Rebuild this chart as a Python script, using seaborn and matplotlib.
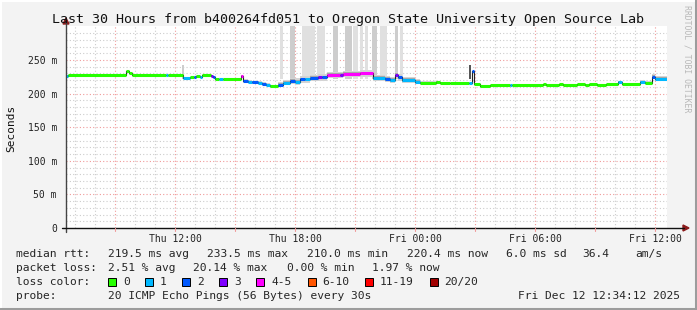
import numpy as np
import pandas as pd
import matplotlib
matplotlib.use("Agg")
import matplotlib.pyplot as plt
import seaborn as sns

# ---------------- data ----------------
# median rtt segments: start hour (since window start), value in ms, loss class, smoke spread (ms)
seg_start = [0.0, 0.1, 3.0, 3.15, 3.3, 5.0, 5.1, 5.85, 6.2, 6.4, 6.5, 6.7, 6.8, 7.25, 7.35,
             7.45, 7.65, 7.85, 8.75, 8.85, 9.1, 9.3, 9.6, 9.8, 10.0, 10.2, 10.6, 10.85, 11.2,
             11.45, 11.7, 11.95, 12.2, 12.6, 12.8, 13.05, 13.7, 13.85, 14.7, 15.35, 15.95,
             16.2, 16.45, 16.6, 16.8, 17.45, 17.7, 18.5, 18.7, 19.2, 20.15, 20.3, 20.4, 20.7,
             21.2, 22.2, 22.3, 23.85, 24.0, 24.65, 24.85, 25.55, 25.95, 26.15, 26.55, 27.0,
             27.6, 27.8, 28.7, 28.95, 29.3, 29.45]
seg_ms = [226, 228, 233.5, 231, 228, 228, 228, 223, 225, 224, 226, 224, 227, 226, 224,
          222, 221, 221, 226.5, 219, 218, 217, 216, 215, 213.5, 211, 213.5, 216, 219,
          218, 221, 221, 223, 224, 224, 228, 228, 229, 230, 223, 222,
          220, 228, 224, 220, 218, 216, 218, 216.5, 215.5, 215.5, 233, 214, 212,
          213, 213, 213, 214.5, 213, 214.5, 213, 214.5, 213, 214.5, 213, 214,
          217, 215, 218, 216.5, 225, 222]
seg_loss = [1, 0, 0, 0, 0, 1, 0, 1, 0, 2, 0, 1, 0, 3, 2,
            0, 1, 0, 4, 2, 1, 2, 1, 2, 1, 0, 2, 1, 2,
            1, 2, 1, 2, 3, 2, 4, 3, 4, 4, 1, 2,
            1, 3, 2, 1, 1, 0, 0, 0, 0, 1, 2, 0, 0,
            0, 1, 0, 0, 0, 0, 0, 0, 0, 0, 0, 0,
            1, 0, 1, 0, 2, 1]
seg_spread = [0, 0, 0, 0, 0, 0, 0, 1, 0, 0, 0, 0, 0, 0, 0,
              0, 0, 0, 1, 2, 2, 2, 2, 2, 2, 1, 3, 3, 4,
              4, 4, 4, 4, 4, 4, 4, 4, 4, 4, 4, 4,
              4, 4, 4, 4, 3, 2, 1, 1, 0, 0, 1, 0, 0,
              0, 0, 0, 0, 0, 0, 0, 0, 0, 0, 0, 0,
              2, 1, 2, 2, 3, 3]
window_end = 30.05

# off-scale smoke (individual pings far above the median)
spike_start = [5.8, 10.7, 11.2, 11.8, 12.55, 13.35, 13.95, 14.35, 14.7, 14.95, 15.3, 15.7, 16.45, 16.7, 20.15]
spike_end = [5.9, 10.85, 11.45, 12.45, 12.95, 13.6, 14.3, 14.6, 14.85, 15.1, 15.55, 16.05, 16.6, 16.85, 20.25]
spike_top = [242, 300, 300, 300, 300, 300, 300, 300, 300, 300, 300, 300, 300, 300, 242]
spike_level = [2, 1, 2, 1, 1, 2, 2, 1, 1, 1, 2, 1, 2, 1, 3]

x_tick_hours = [5.45, 11.45, 17.45, 23.45, 29.45]
x_tick_labels = ["Thu 12:00", "Thu 18:00", "Fri 00:00", "Fri 06:00", "Fri 12:00"]
y_tick_values = [0, 50, 100, 150, 200, 250]
y_tick_labels = ["0", "50 m", "100 m", "150 m", "200 m", "250 m"]

title = "Last 30 Hours from b400264fd051 to Oregon State University Open Source Lab"
rtt_items = ["219.5 ms avg", "233.5 ms max", "210.0 ms min", "220.4 ms now", "6.0 ms sd", "36.4", "am/s"]
loss_items = ["2.51 % avg", "20.14 % max", "0.00 % min", "1.97 % now"]
loss_names = ["0", "1", "2", "3", "4-5", "6-10", "11-19", "20/20"]
loss_colors = ["#26ff00", "#00b8ff", "#0059ff", "#7e00ff", "#ff00ff", "#ff5500", "#ff0000", "#a10000"]
probe_text = "20 ICMP Echo Pings (56 Bytes) every 30s"
stamp_text = "Fri Dec 12 12:34:12 2025"

# ---------------- figure ----------------
sns.set_theme(style="white")
plt.rcParams["font.family"] = ["DejaVu Sans Mono"]
W, H = 697, 310
fig = plt.figure(figsize=(W / 100, H / 100), dpi=100, facecolor="#f3f3f3")

def fx(x):
    return x / W

def fy(y):
    return 1 - y / H

L, R, T, B = 66, 667, 26.4, 228
ax = fig.add_axes([fx(L), fy(B), (R - L) / W, (B - T) / H])
ax.set_facecolor("white")
ax.set_xlim(0, window_end)
ax.set_ylim(0, 300)

# grid
for h in np.arange(0.45, window_end, 1.0):
    major = abs(((h - 2.45) / 3) - round((h - 2.45) / 3)) < 1e-6
    ax.axvline(h, color="#f09a9a" if major else "#cccccc", lw=0.8,
               ls=(0, (1, 2)), zorder=0)
for v in range(10, 300, 10):
    major = v % 50 == 0
    ax.axhline(v, color="#f09a9a" if major else "#cccccc", lw=0.8,
               ls=(0, (1, 2)), zorder=0)

# spikes
spike_shades = {1: "#e0e0e0", 2: "#cdcdcd", 3: "#555555"}
for s, e, t, lv in zip(spike_start, spike_end, spike_top, spike_level):
    ax.fill_between([s, e], [222, 222], [t, t], color=spike_shades[lv], lw=0, zorder=1)

# smoke band around median
edges = np.array(seg_start + [window_end])
med = np.array(seg_ms + [seg_ms[-1]])
spr = np.array(seg_spread + [seg_spread[-1]], dtype=float)
ax.fill_between(edges, med - spr * 1.2, med + spr * 1.2, step="post", color="#d4d4d4", lw=0, zorder=2)
ax.fill_between(edges, med - spr * 0.7, med + spr * 0.7, step="post", color="#a8a8a8", lw=0, zorder=2)

# median connector (steps)
sns.lineplot(x=edges, y=med, drawstyle="steps-post", color="#222222", lw=0.8,
             ax=ax, legend=False, estimator=None, sort=False, zorder=3)

# coloured median segments
rows = []
for i, (s, v, c) in enumerate(zip(seg_start, seg_ms, seg_loss)):
    e = seg_start[i + 1] if i + 1 < len(seg_start) else window_end
    rows.append({"h": s, "ms": v, "seg": f"s{i}"})
    rows.append({"h": e, "ms": v, "seg": f"s{i}"})
df = pd.DataFrame(rows)
pal = {f"s{i}": loss_colors[c] for i, c in enumerate(seg_loss)}
sns.lineplot(data=df, x="h", y="ms", hue="seg", palette=pal, lw=2.2, ax=ax,
             legend=False, estimator=None, sort=False, zorder=4)
for ln in ax.lines[-len(seg_start):]:
    ln.set_solid_capstyle("butt")

# axes styling
for sp in ax.spines.values():
    sp.set_visible(False)
ax.set_xlabel("")
ax.set_ylabel("")
ax.set_xticks(x_tick_hours)
ax.set_xticklabels(x_tick_labels, fontsize=7, color="#222222")
ax.set_yticks(y_tick_values)
ax.set_yticklabels(y_tick_labels, fontsize=7, color="#222222")
ax.tick_params(axis="x", length=0, pad=4)
ax.tick_params(axis="y", length=0, pad=6.5)

# axis lines and arrows (figure coords)
fig.add_artist(plt.Line2D([fx(L), fx(L)], [fy(B + 4), fy(22)], color="#444444", lw=1.0))
fig.add_artist(plt.Line2D([fx(L - 4), fx(684)], [fy(B), fy(B)], color="#111111", lw=1.0))
fig.add_artist(plt.Polygon([[fx(L - 3), fy(24)], [fx(L + 3), fy(24)], [fx(L), fy(18)]],
                           closed=True, color="#8b1a1a", transform=fig.transFigure))
fig.add_artist(plt.Polygon([[fx(683), fy(B - 3)], [fx(683), fy(B + 3)], [fx(689), fy(B)]],
                           closed=True, color="#8b1a1a", transform=fig.transFigure))
for h in np.arange(2.45, window_end, 3.0):
    xp = L + h * 20
    fig.add_artist(plt.Line2D([fx(xp), fx(xp)], [fy(B), fy(B + 3)], color="#f09a9a", lw=0.8))

# frame borders
fig.add_artist(plt.Line2D([0, 1], [fy(0.5), fy(0.5)], color="#ffffff", lw=1.5))
fig.add_artist(plt.Line2D([fx(0.5), fx(0.5)], [0, 1], color="#ffffff", lw=1.5))
fig.add_artist(plt.Line2D([fx(695.5), fx(695.5)], [0, 1], color="#9c9c9c", lw=2.2))
fig.add_artist(plt.Line2D([0, 1], [fy(308.5), fy(308.5)], color="#9c9c9c", lw=2.2))

# texts
fig.text(fx(347.5), fy(19.5), title, ha="center", va="center", fontsize=9.6, color="#111111")
fig.text(fx(11), fy(128), "Seconds", rotation=90, ha="center", va="center", fontsize=8, color="#111111")
fig.text(fx(687.5), fy(5), "RRDTOOL / TOBI OETIKER", rotation=270, ha="center", va="top",
         fontsize=5.9, color="#b8b8b8")

FS = 8.1
y1, y2, y3, y4 = 254, 268, 282, 296
fig.text(fx(16.4), fy(y1), "median rtt:", fontsize=FS, va="center")
for xp, s in zip([107.6, 206.7, 306.7, 406.7, 505.8, 582.2, 635.6], rtt_items):
    fig.text(fx(xp), fy(y1), s, fontsize=FS, va="center")
fig.text(fx(16.4), fy(y2), "packet loss:", fontsize=FS, va="center")
for xp, s in zip([107.6, 193.3, 286.7, 372.4], loss_items):
    fig.text(fx(xp), fy(y2), s, fontsize=FS, va="center")
fig.text(fx(16.4), fy(y3), "loss color:", fontsize=FS, va="center")
for xs, xt, name, col in zip([108, 145.3, 182, 219, 256.4, 307.6, 365, 430],
                              [123, 160, 197, 234, 271, 322, 380, 444],
                              loss_names, loss_colors):
    fig.add_artist(plt.Rectangle((fx(xs), fy(y3 + 4)), 8 / W, 8 / H, facecolor=col,
                                 edgecolor="#000000", lw=0.7, transform=fig.transFigure))
    fig.text(fx(xt), fy(y3), name, fontsize=FS, va="center")
fig.text(fx(16.4), fy(y4), "probe:", fontsize=FS, va="center")
fig.text(fx(107.6), fy(y4), probe_text, fontsize=FS, va="center")
fig.text(fx(680), fy(y4), stamp_text, fontsize=FS, va="center", ha="right")

fig.savefig("out.png", dpi=100, facecolor=fig.get_facecolor())
